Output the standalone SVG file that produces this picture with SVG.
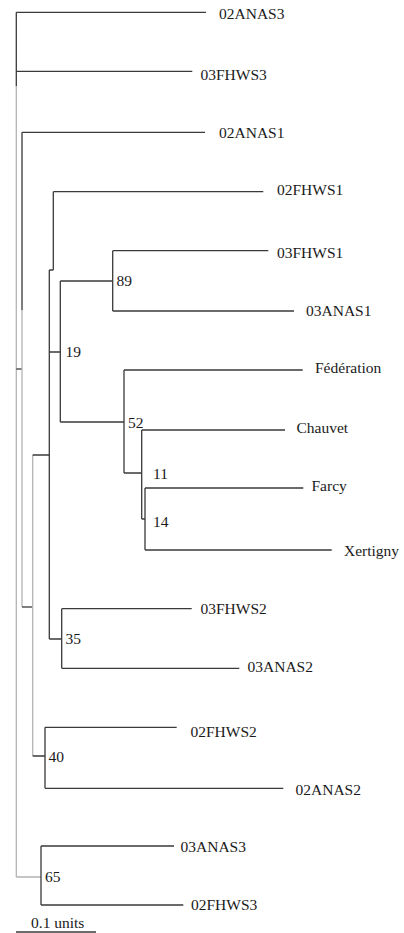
<svg xmlns="http://www.w3.org/2000/svg" width="404" height="933" viewBox="0 0 404 933" font-family="'Liberation Serif', serif" font-size="15.5">
<style>
.e{fill:none;stroke:#3a3a3a;stroke-width:1.3}
.g{fill:none;stroke:#b4b4b4;stroke-width:1.3}
.t{font-family:'Liberation Serif', serif;font-size:15.5px;fill:#1a1a1a}
</style>
<rect width="404" height="933" fill="#ffffff"/>
<g id="connectors">
<path class="e" d="M16.3,12.3V86 M16.3,12.3H206 M16.3,71.3H192.3"/>
<path class="g" d="M16.3,86V877 M16.3,877H41"/>
<path class="e" d="M16.3,369H22"/>
<path class="e" d="M22,132.3V310 M22,132.3H205"/>
<path class="g" d="M22,310V607"/>
<path class="e" d="M22,607H32.7"/>
<path class="g" d="M32.7,455V756"/>
<path class="e" d="M32.7,455H49.3 M32.7,756H45"/>
<path class="e" d="M49.3,270V639 M49.3,270H53.3 M49.3,352H60.3 M49.3,639H61.7"/>
<path class="e" d="M53.3,191.7V270 M53.3,191.7H263.3"/>
<path class="e" d="M60.3,281V422 M60.3,281H112.7 M60.3,422H124"/>
<path class="e" d="M112.7,250.7V311 M112.7,250.7H268.3 M112.7,311H294"/>
<path class="e" d="M124,370V473 M124,370H302.7 M124,473H141.7"/>
<path class="e" d="M141.7,430V519 M141.7,430H285 M141.7,519H145"/>
<path class="e" d="M145,488V550 M145,488H303.3 M145,550H331.7"/>
<path class="e" d="M61.7,608.7V668.3 M61.7,608.7H191.7 M61.7,668.3H239.3"/>
<path class="e" d="M45,727.3V788.3 M45,727.3H176.7 M45,788.3H283.3"/>
<path class="e" d="M41,846V905 M41,846H174 M41,905H183.3"/>
<path class="e" d="M16,932H96"/>
</g>
<g id="leaf-02ANAS3"><text class="t" x="219" y="19">02ANAS3</text></g>
<g id="leaf-03FHWS3"><text class="t" x="200.5" y="79.5">03FHWS3</text></g>
<g id="leaf-02ANAS1"><text class="t" x="219" y="137.5">02ANAS1</text></g>
<g id="leaf-02FHWS1"><text class="t" x="277" y="194.5">02FHWS1</text></g>
<g id="leaf-03FHWS1"><text class="t" x="277" y="258">03FHWS1</text></g>
<g id="leaf-03ANAS1"><text class="t" x="306" y="316">03ANAS1</text></g>
<g id="leaf-Federation"><text class="t" x="315" y="373">Fédération</text></g>
<g id="leaf-Chauvet"><text class="t" x="296.5" y="432.5">Chauvet</text></g>
<g id="leaf-Farcy"><text class="t" x="311.5" y="491">Farcy</text></g>
<g id="leaf-Xertigny"><text class="t" x="344" y="556">Xertigny</text></g>
<g id="leaf-03FHWS2"><text class="t" x="200.5" y="614">03FHWS2</text></g>
<g id="leaf-03ANAS2"><text class="t" x="247.5" y="672">03ANAS2</text></g>
<g id="leaf-02FHWS2"><text class="t" x="190.5" y="736.5">02FHWS2</text></g>
<g id="leaf-02ANAS2"><text class="t" x="295.5" y="795">02ANAS2</text></g>
<g id="leaf-03ANAS3"><text class="t" x="180.5" y="852">03ANAS3</text></g>
<g id="leaf-02FHWS3"><text class="t" x="191" y="910">02FHWS3</text></g>
<g id="node-89"><text class="t" x="116.5" y="286">89</text></g>
<g id="node-19"><text class="t" x="65.5" y="356.5">19</text></g>
<g id="node-52"><text class="t" x="128" y="428">52</text></g>
<g id="node-11"><text class="t" x="153" y="479">11</text></g>
<g id="node-14"><text class="t" x="153" y="527">14</text></g>
<g id="node-35"><text class="t" x="65.5" y="644">35</text></g>
<g id="node-40"><text class="t" x="48.5" y="762">40</text></g>
<g id="node-65"><text class="t" x="45" y="882">65</text></g>
<g id="scale"><text class="t" x="31" y="928">0.1 units</text></g>
</svg>
